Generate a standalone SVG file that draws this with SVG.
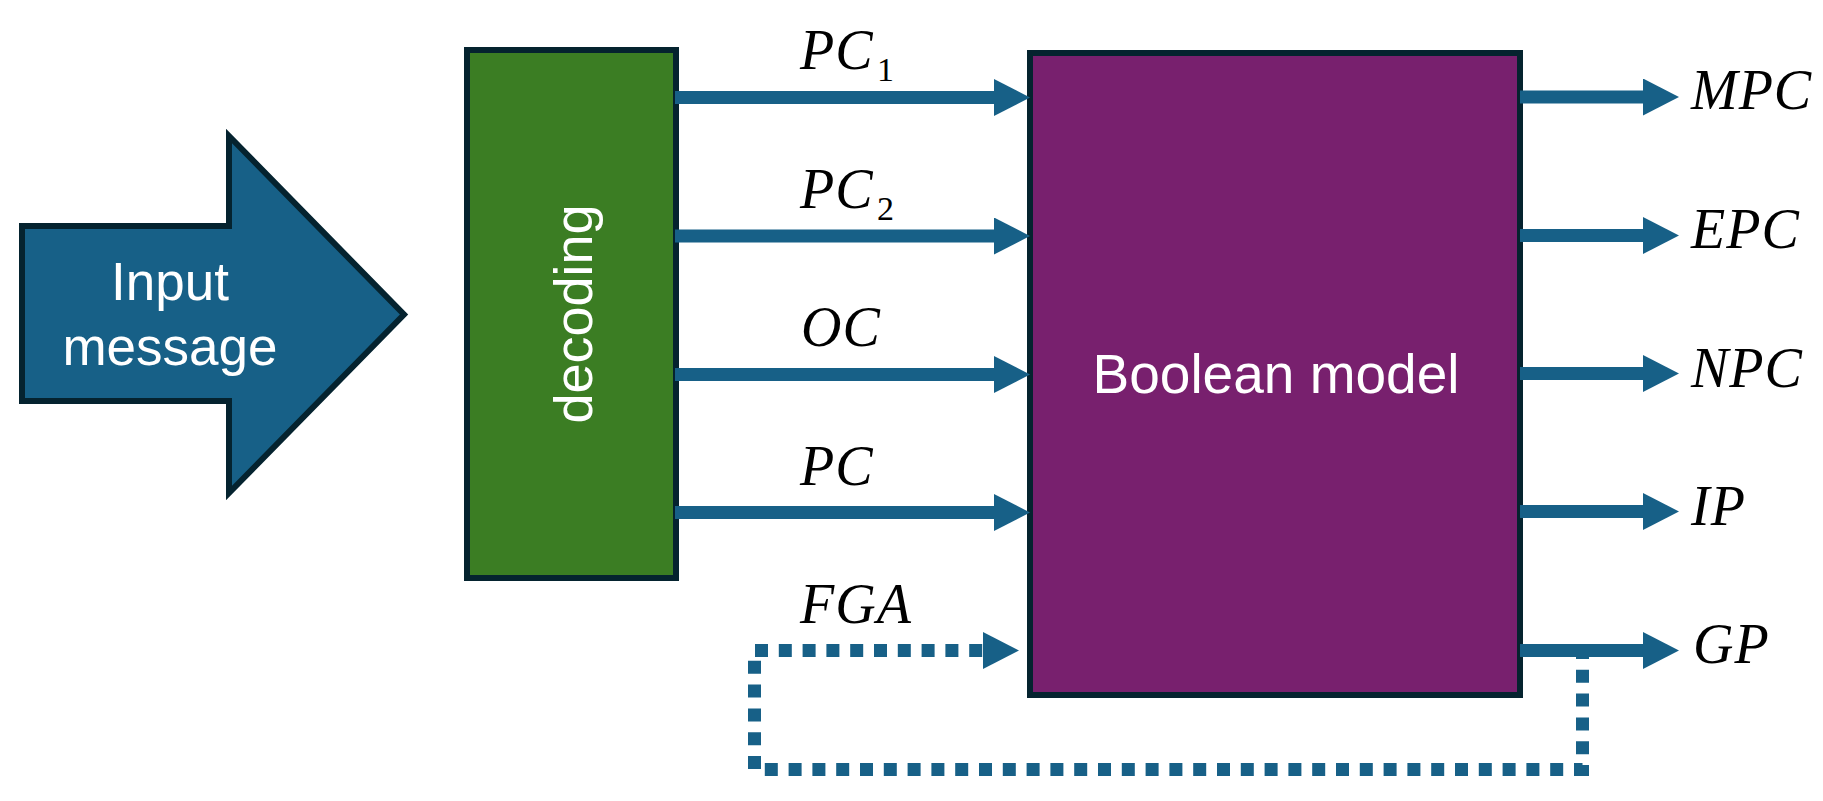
<svg xmlns="http://www.w3.org/2000/svg" width="1823" height="801" viewBox="0 0 1823 801">
  <style>
    .node-stroke { stroke: #05232F; stroke-width: 6; stroke-linejoin: miter; }
    .sans { font-family: "Liberation Sans", Arial, sans-serif; fill: #FFFFFF; }
    .math { font-family: "Liberation Serif", "Times New Roman", serif; font-style: italic; font-size: 56px; fill: #000000; letter-spacing: 1px; }
    .sub { font-style: normal; font-size: 34px; letter-spacing: 0; }
    .conn { stroke: #176087; stroke-width: 13; fill: none; }
    .dash { stroke-dasharray: 13 10.8; }
  </style>
  <defs>
    <marker id="head" markerUnits="userSpaceOnUse" markerWidth="36" markerHeight="37" refX="2" refY="18.5" orient="auto" viewBox="0 0 36 37">
      <path d="M0,0 L36,18.5 L0,37 Z" fill="#176087"/>
    </marker>
  </defs>
  <rect width="1823" height="801" fill="#FFFFFF"/>

  <g id="input-message">
    <polygon class="node-stroke" fill="#176087" points="22,226 229,226 229,136 404,314.5 229,493 229,401 22,401"/>
    <text class="sans" font-size="53" text-anchor="middle" x="170" y="300">Input</text>
    <text class="sans" font-size="53" text-anchor="middle" x="170" y="365">message</text>
  </g>

  <g id="decoding">
    <rect class="node-stroke" fill="#3B7D23" x="467" y="50" width="209" height="528"/>
    <text class="sans" font-size="54" text-anchor="middle" transform="translate(592,314) rotate(-90)">decoding</text>
  </g>

  <g id="boolean-model">
    <rect class="node-stroke" fill="#78206E" x="1030" y="53" width="490" height="642"/>
    <text class="sans" font-size="55" text-anchor="middle" x="1276" y="393">Boolean model</text>
  </g>

  <g id="connectors">
    <path class="conn dash" d="M1582.5,646 V769.5 H754.5 V650.5 H985" marker-end="url(#head)"/>
    <line class="conn" x1="675" y1="97.5" x2="996" y2="97.5" marker-end="url(#head)"/>
    <line class="conn" x1="675" y1="236" x2="996" y2="236" marker-end="url(#head)"/>
    <line class="conn" x1="675" y1="374.5" x2="996" y2="374.5" marker-end="url(#head)"/>
    <line class="conn" x1="675" y1="512.5" x2="996" y2="512.5" marker-end="url(#head)"/>
    <line class="conn" x1="1520" y1="97" x2="1645" y2="97" marker-end="url(#head)"/>
    <line class="conn" x1="1520" y1="235.5" x2="1645" y2="235.5" marker-end="url(#head)"/>
    <line class="conn" x1="1520" y1="373.5" x2="1645" y2="373.5" marker-end="url(#head)"/>
    <line class="conn" x1="1520" y1="511.5" x2="1645" y2="511.5" marker-end="url(#head)"/>
    <line class="conn" x1="1520" y1="650.5" x2="1645" y2="650.5" marker-end="url(#head)"/>
  </g>

  <g id="labels">
    <text class="math" x="800" y="69">PC<tspan class="sub" x="877" y="81">1</tspan></text>
    <text class="math" x="800" y="208">PC<tspan class="sub" x="877" y="220">2</tspan></text>
    <text class="math" x="801" y="346">OC</text>
    <text class="math" x="800" y="485">PC</text>
    <text class="math" x="800" y="623">FGA</text>
    <text class="math" x="1691" y="109">MPC</text>
    <text class="math" x="1691" y="248">EPC</text>
    <text class="math" x="1691" y="387">NPC</text>
    <text class="math" x="1691" y="525">IP</text>
    <text class="math" x="1693" y="663">GP</text>
  </g>
</svg>
